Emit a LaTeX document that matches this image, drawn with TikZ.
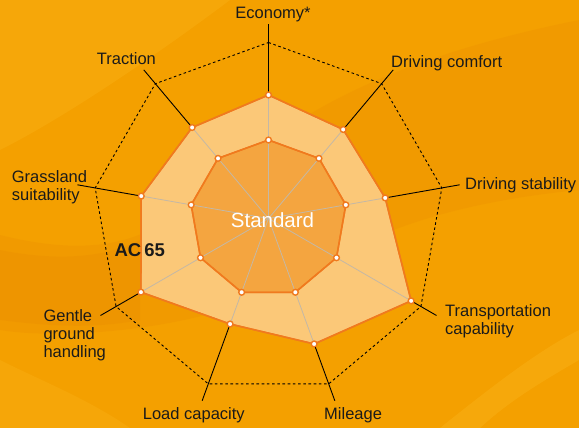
\documentclass[tikz,border=0pt]{standalone}
\usepackage{fontspec}
\setmainfont{Liberation Sans}
\definecolor{bgc}{HTML}{F4A000}
\definecolor{bgdark}{HTML}{EB8E00}
\definecolor{bglight}{HTML}{F8AC10}
\definecolor{outerc}{HTML}{FBC878}
\definecolor{innerc}{HTML}{F4A540}
\definecolor{edgec}{HTML}{F07A1E}
\definecolor{spokec}{HTML}{C4B8A6}
\definecolor{labelc}{HTML}{1A1A1A}
\begin{document}
\begin{tikzpicture}[x=1pt,y=-1pt,
  lbl/.style={inner sep=0pt, font=\fontsize{16.5}{18.3}\selectfont, text=labelc},
  mlbl/.style={lbl, align=left, anchor=north west},
  grid/.style={draw=black, line width=0.9pt, dash pattern=on 2.6pt off 2.6pt},
  areaout/.style={fill=outerc, draw=edgec, line width=1.5pt, line join=round},
  areain/.style={fill=innerc, draw=edgec, line width=1.5pt, line join=round},
  spoke/.style={draw=spokec, line width=0.8pt},
  leader/.style={draw=black, line width=0.9pt},
  dot/.style={circle, fill=white, draw=edgec, line width=1.4pt, minimum size=5.8pt, inner sep=0pt}]
% background
\useasboundingbox (0,0) rectangle (579,428);
\fill[bgc] (0,0) rectangle (579,428);
\fill[bglight, opacity=0.6] (0,0) -- (230,0) .. controls (150,60) and (60,120) .. (0,150) -- cycle;
\fill[bgdark, opacity=0.3] (0,235) .. controls (60,250) and (110,250) .. (150,230) -- (300,120) .. controls (380,70) and (480,40) .. (579,20) -- (579,190) .. controls (480,200) and (400,220) .. (330,260) -- (250,300) .. controls (180,330) and (60,340) .. (0,330) -- cycle;
\fill[bgdark, opacity=0.35] (0,250) .. controls (50,260) and (100,260) .. (140,240) -- (140,320) .. controls (90,330) and (40,325) .. (0,320) -- cycle;
\fill[bglight, opacity=0.7] (440,428) .. controls (500,380) and (540,350) .. (579,330) -- (579,360) .. controls (545,380) and (510,400) .. (480,428) -- cycle;
\fill[bglight, opacity=0.5] (0,360) .. controls (40,380) and (90,400) .. (130,428) -- (0,428) -- cycle;
% geometry
\coordinate (C) at (268.5,218.5);
\foreach \a/\r/\n in {-90/123.5/1,-50/116.2/2,-10/118.5/3,30/164.7/4,70/133.5/5,110/112.3/6,150/147.3/7,-170/129.2/8,-130/118.8/9}{
  \coordinate (o\n) at ([shift={(\a:\r)}]C);
  \coordinate (i\n) at ([shift={(\a:78.5)}]C);
  \coordinate (d\n) at ([shift={(\a:176)}]C);
  \coordinate (e\n) at ([shift={(\a:194)}]C);
}
\draw[grid] (d1) -- (d2) -- (d3) -- (d4) -- (d5) -- (d6) -- (d7) -- (d8) -- (d9) -- cycle;
\path[areaout] (o1) -- (o2) -- (o3) -- (o4) -- (o5) -- (o6) -- (o7) -- (o8) -- (o9) -- cycle;
\path[areain] (i1) -- (i2) -- (i3) -- (i4) -- (i5) -- (i6) -- (i7) -- (i8) -- (i9) -- cycle;
\foreach \n in {1,...,9}{
  \draw[spoke] (C) -- (i\n);
  \draw[spoke] (i\n) -- (o\n);
  \draw[leader] (o\n) -- (e\n);
}
\draw[areain, fill=none] (i1) -- (i2) -- (i3) -- (i4) -- (i5) -- (i6) -- (i7) -- (i8) -- (i9) -- cycle;
\draw[areaout, fill=none] (o1) -- (o2) -- (o3) -- (o4) -- (o5) -- (o6) -- (o7) -- (o8) -- (o9) -- cycle;
\foreach \n in {1,...,9}{
  \node[dot] (po\n) at (o\n) {};
  \node[dot] (pi\n) at (i\n) {};
}
% labels
\node[lbl, anchor=base] (economy) at (273,18.3) {Economy*};
\node[lbl, anchor=base west] (traction) at (96.7,65) {Traction};
\node[lbl, anchor=base west] (comfort) at (391,67.3) {Driving comfort};
\node[lbl, anchor=base west] (stability) at (465,189.3) {Driving stability};
\node[mlbl] (transport) at (445,304) {Transportation\\capability};
\node[lbl, anchor=base west] (mileage) at (324,419.5) {Mileage};
\node[lbl, anchor=base west] (load) at (142.7,419.5) {Load capacity};
\node[mlbl] (gentle) at (43.3,309) {Gentle\\ground\\handling};
\node[mlbl] (grass) at (11.7,170) {Grassland\\suitability};
\node[inner sep=0pt, anchor=base, text=white, draw=none, font=\fontsize{20.5}{24}\selectfont] (standard) at (272.5,227.3) {Standard};
\node[inner sep=0pt, anchor=base west, text=labelc, font=\fontsize{18.5}{22}\selectfont\bfseries] (ac) at (114.3,256) {AC\,65};
\end{tikzpicture}
\end{document}
